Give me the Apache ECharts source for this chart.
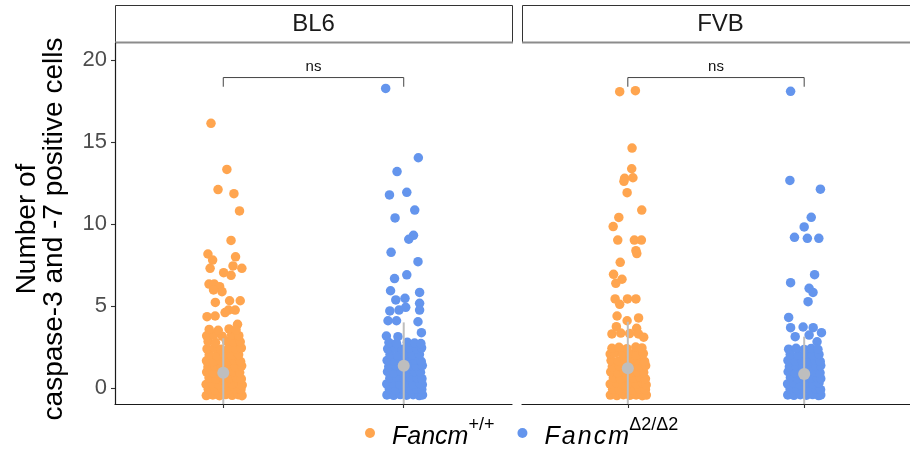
<!DOCTYPE html>
<html>
<head>
<meta charset="utf-8">
<script src="https://cdn.jsdelivr.net/npm/echarts@6/dist/echarts.min.js"></script>
<style>
  html, body { margin: 0; padding: 0; background: #fff; }
  #chart { width: 910px; height: 456px; }
</style>
</head>
<body>
<div id="chart"></div>
<script>
// Facets (mouse strains) and genotypes
const strains = ['BL6', 'FVB'];
const genoBase = ['Fancm', 'Fancm'];
const genoSup = ['+/+', 'Δ2/Δ2'];
const yTicks = [0, 5, 10, 15, 20];

// Caspase-3/-7 positive cells per section: [jitter offset, count]
const bl6Wt = [
  [-0.068,16.14],[0.020,13.33],[-0.029,12.10],[0.059,11.85],[0.090,10.80],[0.043,9.00],
  [-0.085,8.17],[-0.059,7.80],[0.068,8.00],[-0.073,7.30],[0.054,7.44],[0.103,7.30],
  [0.002,7.03],[0.043,6.87],[-0.079,6.34],[-0.050,6.34],[-0.020,6.18],[-0.007,5.87],
  [-0.054,5.98],[-0.044,5.22],[0.035,5.32],[0.094,5.32],[0.079,3.88],[-0.090,4.35],
  [-0.045,4.39],[0.029,4.75],[0.066,4.75],[0.010,4.60],
  [-0.094,-0.46],[-0.058,-0.42],[-0.021,-0.47],[0.013,-0.40],[0.049,-0.45],[0.083,-0.41],[0.104,-0.47],
  [-0.083,-0.08],[-0.046,-0.13],[-0.006,-0.05],[0.031,-0.12],[0.068,-0.07],[0.098,-0.10],
  [-0.095,0.22],[-0.062,0.28],[-0.024,0.20],[0.012,0.30],[0.050,0.24],[0.086,0.27],[0.105,0.18],
  [-0.079,0.62],[-0.040,0.56],[-0.003,0.66],[0.035,0.58],[0.072,0.63],[0.100,0.55],
  [-0.092,0.97],[-0.055,0.92],[-0.018,0.99],[0.019,0.93],[0.056,1.00],[0.091,0.94],
  [-0.085,1.28],[-0.047,1.34],[-0.010,1.27],[0.028,1.33],[0.066,1.29],[0.102,1.35],
  [-0.093,1.66],[-0.052,1.62],[-0.016,1.70],[0.024,1.64],[0.061,1.69],[0.096,1.61],
  [-0.078,2.02],[-0.036,1.97],[0.006,2.05],[0.044,1.99],[0.085,2.03],
  [-0.090,2.38],[-0.050,2.43],[-0.012,2.36],[0.030,2.42],[0.070,2.37],[0.100,2.44],
  [-0.084,2.83],[-0.043,2.77],[0.018,2.85],[0.058,2.79],[0.094,2.82],
  [-0.092,3.18],[-0.052,3.24],[-0.006,3.16],[0.046,3.22],[0.086,3.19],
  [-0.078,3.57],[-0.028,3.52],[0.032,3.60],[0.071,3.54]
];
const bl6Mut = [
  [-0.100,18.27],[0.081,14.04],[-0.037,13.20],[-0.079,11.77],[0.017,11.93],[0.061,10.85],
  [-0.048,10.37],[0.054,9.31],[0.028,9.07],[-0.070,8.27],[0.079,7.70],[-0.051,6.67],
  [0.017,6.90],[-0.073,5.93],[0.088,5.83],[-0.044,5.37],[0.007,5.47],[0.088,5.16],
  [0.088,4.75],[-0.077,4.70],[-0.026,4.75],[0.011,4.92],[-0.087,4.10],[-0.040,4.10],
  [0.079,4.04],[0.098,3.37],[-0.096,3.17],[-0.032,3.13],
  [-0.093,-0.42],[-0.056,-0.45],[-0.019,-0.40],[0.016,-0.44],[0.052,-0.41],[0.086,-0.46],[0.104,-0.42],
  [-0.080,-0.06],[-0.043,-0.11],[-0.004,-0.04],[0.034,-0.10],[0.071,-0.05],[0.100,-0.09],
  [-0.094,0.25],[-0.060,0.31],[-0.022,0.22],[0.014,0.29],[0.052,0.24],[0.088,0.30],[0.103,0.20],
  [-0.077,0.60],[-0.039,0.66],[-0.001,0.58],[0.037,0.64],[0.074,0.61],[0.101,0.57],
  [-0.090,0.99],[-0.053,0.94],[-0.016,1.01],[0.021,0.95],[0.058,1.00],[0.093,0.96],
  [-0.083,1.30],[-0.045,1.36],[-0.008,1.29],[0.030,1.35],[0.068,1.31],[0.103,1.37],
  [-0.092,1.68],[-0.050,1.64],[-0.013,1.71],[0.026,1.65],[0.063,1.70],[0.097,1.63],
  [-0.076,2.04],[-0.034,1.99],[0.008,2.06],[0.046,2.00],[0.087,2.05],
  [-0.089,2.39],[-0.048,2.44],[-0.010,2.37],[0.032,2.43],[0.072,2.38],[0.099,2.45],
  [-0.082,2.77],[-0.040,2.72],[0.020,2.79],[0.060,2.74],[0.095,2.71]
];
const fvbWt = [
  [-0.046,18.07],[0.043,18.13],[0.024,14.63],[0.022,13.37],[-0.018,12.79],[0.029,12.82],
  [-0.022,12.60],[-0.004,11.91],[0.079,10.85],[-0.051,10.40],[-0.083,9.84],[-0.057,9.02],
  [0.037,9.02],[0.077,9.02],[0.046,8.37],[0.051,8.20],[-0.043,7.66],[-0.081,6.93],
  [-0.033,6.63],[-0.068,6.38],[-0.072,5.43],[-0.046,5.10],[-0.002,5.43],[0.046,5.43],
  [-0.061,4.39],[-0.004,4.10],[0.061,4.27],[-0.065,3.74],[0.050,3.64],[-0.090,3.30],
  [-0.040,3.35],[0.010,3.32],[0.060,3.30],[0.090,3.10],
  [-0.099,-0.43],[-0.062,-0.46],[-0.025,-0.41],[0.011,-0.45],[0.047,-0.42],[0.082,-0.47],[0.105,-0.43],
  [-0.086,-0.07],[-0.048,-0.12],[-0.009,-0.05],[0.029,-0.11],[0.066,-0.06],[0.100,-0.10],
  [-0.100,0.24],[-0.064,0.30],[-0.027,0.21],[0.010,0.28],[0.048,0.23],[0.084,0.29],[0.104,0.19],
  [-0.082,0.63],[-0.043,0.57],[-0.005,0.65],[0.033,0.59],[0.070,0.64],[0.100,0.56],
  [-0.097,0.98],[-0.058,0.93],[-0.020,1.00],[0.017,0.94],[0.054,0.99],[0.090,0.95],
  [-0.088,1.29],[-0.049,1.35],[-0.012,1.28],[0.026,1.34],[0.064,1.30],[0.101,1.36],
  [-0.095,1.67],[-0.054,1.63],[-0.017,1.70],[0.022,1.64],[0.059,1.69],[0.095,1.62],
  [-0.100,2.07],[-0.074,2.12],[-0.030,2.03],[0.012,2.09],[0.050,2.02],[0.088,2.10],
  [-0.090,2.42],[-0.050,2.48],[-0.005,2.40],[0.045,2.50],[0.080,2.44]
];
const fvbMut = [
  [-0.077,18.09],[-0.081,12.66],[0.092,12.12],[0.040,10.41],[0.000,9.82],[-0.055,9.19],
  [0.018,9.13],[0.083,9.13],[0.059,6.91],[-0.077,6.42],[0.028,6.08],[0.050,5.83],
  [0.022,5.26],[-0.088,4.30],[-0.077,3.68],[-0.006,3.72],[0.051,3.68],[0.098,3.37],
  [-0.051,3.13],[0.028,3.23],[0.073,2.82],
  [-0.093,-0.42],[-0.058,-0.45],[-0.022,-0.41],[0.013,-0.44],[0.048,-0.40],[0.082,-0.46],[0.094,-0.42],
  [-0.080,-0.06],[-0.042,-0.10],[-0.005,-0.04],[0.032,-0.11],[0.068,-0.07],[0.093,-0.10],
  [-0.094,0.25],[-0.060,0.30],[-0.024,0.22],[0.012,0.29],[0.049,0.24],[0.084,0.31],
  [-0.078,0.64],[-0.040,0.58],[-0.002,0.66],[0.036,0.60],[0.072,0.63],[0.094,0.57],
  [-0.091,0.99],[-0.053,0.94],[-0.016,1.01],[0.022,0.95],[0.058,0.98],[0.090,0.93],
  [-0.084,1.30],[-0.046,1.36],[-0.009,1.29],[0.029,1.35],[0.066,1.31],[0.094,1.37],
  [-0.092,1.68],[-0.051,1.64],[-0.014,1.71],[0.025,1.65],[0.062,1.70],[0.091,1.62],
  [-0.079,2.04],[-0.035,1.99],[0.007,2.06],[0.046,2.00],[0.084,2.05],
  [-0.088,2.37],[-0.046,2.42],[0.000,2.35],[0.040,2.41],[0.078,2.36]
];

// Group mean and standard deviation: [mean, sd] per genotype
const bl6Summary = [[0.93, 2.10], [1.36, 2.64]];
const fvbSummary = [[1.20, 2.84], [0.85, 2.28]];

// Pairwise comparison within each strain: [from group, to group, bracket top, tick end]
const bl6Test = [1, 2, 18.93, 18.37];
const fvbTest = [1, 2, 18.93, 18.37];
const testLabels = ['ns', 'ns'];

const colors = ['#FFA54F', '#6495ED'];
const meanColor = '#BEBEBE';
const FONT = '"Liberation Sans", Arial, Helvetica, sans-serif';

const panelPoints = [[bl6Wt, bl6Mut], [fvbWt, fvbMut]];
const panelSummary = [bl6Summary, fvbSummary];
const panelTests = [bl6Test, fvbTest];
const seriesNames = genoBase.map((b, i) => b + genoSup[i]);

const PANEL_W = 397;
const panelLeft = [115, 522];
const TOP = 43, PLOT_H = 361;

const grids = panelLeft.map(l => ({ left: l, top: TOP, width: PANEL_W, height: PLOT_H }));

const xAxes = strains.map((s, p) => ({
  type: 'value', gridIndex: p, min: 0.4, max: 2.6,
  splitLine: { show: false },
  axisLine: { show: true, onZero: false, lineStyle: { color: '#1a1a1a', width: 1.2 } },
  axisTick: { show: true, customValues: [1, 2], length: 4, lineStyle: { color: '#333', width: 1.1 } },
  axisLabel: { show: false }
}));

const yAxes = strains.map((s, p) => ({
  type: 'value', gridIndex: p, min: -0.976, max: 21.037,
  splitLine: { show: false },
  axisLine: { show: p === 0, onZero: false, lineStyle: { color: '#1a1a1a', width: 1.2 } },
  axisTick: { show: p === 0, customValues: yTicks, length: 4, lineStyle: { color: '#333', width: 1.1 } },
  axisLabel: { show: p === 0, customValues: yTicks, fontSize: 22, color: '#4D4D4D', margin: 8, fontFamily: FONT }
}));

const series = [];
strains.forEach((s, p) => {
  panelPoints[p].forEach((pts, g) => {
    series.push({
      type: 'scatter', name: seriesNames[g],
      xAxisIndex: p, yAxisIndex: p,
      data: pts.map(([o, v]) => [g + 1 + o, v]),
      symbol: 'circle', symbolSize: 9.5,
      itemStyle: { color: colors[g], opacity: 1 },
      silent: true, z: 2
    });
  });
  // mean ± sd
  series.push({
    type: 'custom', xAxisIndex: p, yAxisIndex: p, clip: true, silent: true, z: 5,
    data: panelSummary[p].map(([m, sd], g) => [g + 1, m, sd]),
    renderItem: (params, api) => {
      const x = api.value(0), m = api.value(1), sd = api.value(2);
      const top = api.coord([x, m + sd]);
      const bot = api.coord([x, m - sd]);
      const mid = api.coord([x, m]);
      return {
        type: 'group', children: [
          { type: 'line', shape: { x1: top[0], y1: top[1], x2: bot[0], y2: bot[1] },
            style: { stroke: meanColor, lineWidth: 2 } },
          { type: 'circle', shape: { cx: mid[0], cy: mid[1], r: 6 }, style: { fill: meanColor } }
        ]
      };
    }
  });
  // significance bracket
  series.push({
    type: 'custom', xAxisIndex: p, yAxisIndex: p, clip: false, silent: true, z: 6,
    data: [panelTests[p]],
    renderItem: (params, api) => {
      const a = api.coord([api.value(0), api.value(2)]);
      const b = api.coord([api.value(1), api.value(2)]);
      const a2 = api.coord([api.value(0), api.value(3)]);
      const b2 = api.coord([api.value(1), api.value(3)]);
      return {
        type: 'group', children: [
          { type: 'polyline', shape: { points: [a2, a, b, b2] },
            style: { stroke: '#444', lineWidth: 1, fill: null } },
          { type: 'text', x: (a[0] + b[0]) / 2, y: a[1] - 3,
            style: { text: testLabels[p], align: 'center', verticalAlign: 'bottom',
                     fontSize: 15, fill: '#111', fontFamily: FONT } }
        ]
      };
    }
  });
});

// facet strips and y-axis title
const graphic = [];
strains.forEach((s, p) => {
  graphic.push({
    type: 'rect', silent: true,
    shape: { x: panelLeft[p] + 0.5, y: 5.5, width: PANEL_W, height: 37 },
    style: { fill: '#fff', stroke: '#333', lineWidth: 1 }
  });
  graphic.push({
    type: 'line', silent: true,
    shape: { x1: panelLeft[p], y1: 42.5, x2: panelLeft[p] + PANEL_W + 1, y2: 42.5 },
    style: { stroke: '#8c8c8c', lineWidth: 2 }
  });
  graphic.push({
    type: 'text', silent: true, x: panelLeft[p] + PANEL_W / 2, y: 24,
    style: { text: s, align: 'center', verticalAlign: 'middle', fontSize: 24,
             fill: '#1a1a1a', fontFamily: FONT }
  });
});
graphic.push({
  type: 'text', silent: true, x: 41, y: 229, rotation: Math.PI / 2,
  style: { text: 'Number of\ncaspase-3 and -7 positive cells', align: 'center',
           verticalAlign: 'middle', fontSize: 28, lineHeight: 27, fill: '#000', fontFamily: FONT }
});

const chart = echarts.init(document.getElementById('chart'), null, { renderer: 'canvas' });
chart.setOption({
  animation: false,
  backgroundColor: '#fff',
  grid: grids,
  xAxis: xAxes,
  yAxis: yAxes,
  legend: {
    data: seriesNames, left: 360, top: 411, orient: 'horizontal',
    icon: 'circle', itemWidth: 10, itemHeight: 10, itemGap: 23,
    selectedMode: false,
    formatter: name => {
      const g = seriesNames.indexOf(name);
      const base = g === 1 ? genoBase[g].split('').join('\u200A') : genoBase[g];
      return '{b|' + base + '}{s|' + genoSup[g] + '}';
    },
    textStyle: {
      fontFamily: FONT,
      rich: {
        b: { fontSize: 25, fontStyle: 'italic', color: '#000', fontFamily: FONT,
             padding: [0, 0, 0, 12], lineHeight: 34, verticalAlign: 'bottom' },
        s: { fontSize: 18, color: '#000', fontFamily: FONT, lineHeight: 34, verticalAlign: 'top' }
      }
    }
  },
  graphic: graphic,
  series: series
});
</script>
</body>
</html>
